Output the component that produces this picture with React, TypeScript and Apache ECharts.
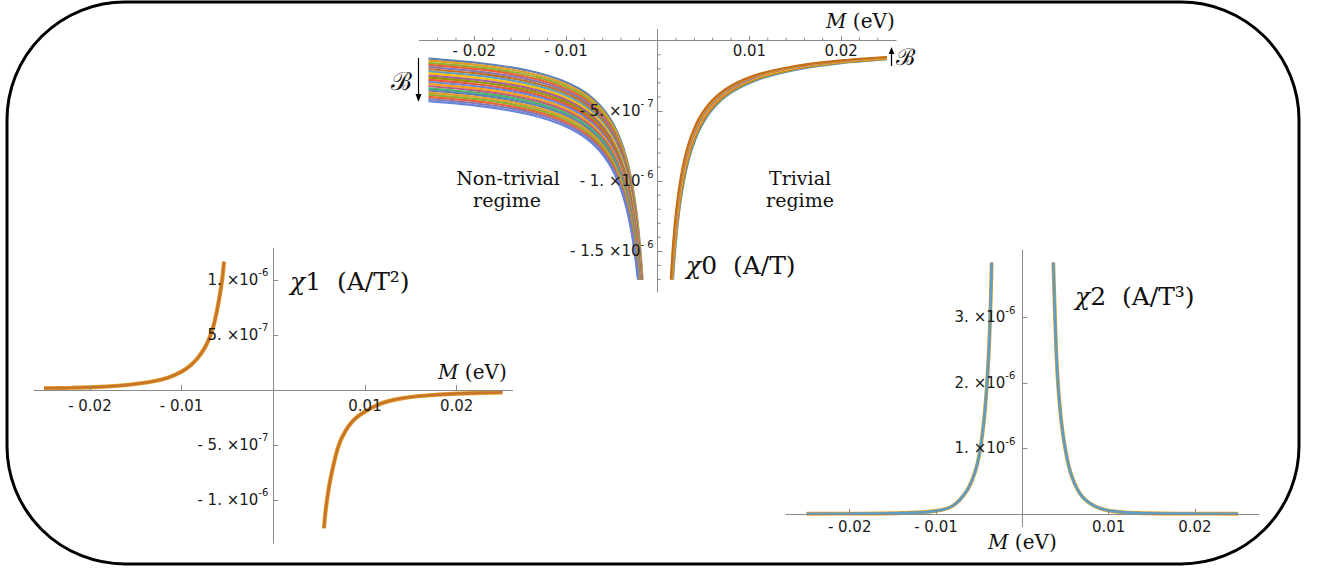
import React, { useEffect, useRef } from 'react';
import * as echarts from 'echarts';

// ---------- data (M in eV, susceptibilities in units of 1e-7) ----------
// chi0, non-trivial side: shared M grid, one curve per field value (B grows downward)
const chi0LeftM = [-0.025, -0.02, -0.016, -0.013, -0.0105, -0.0085, -0.007, -0.0058, -0.0048, -0.004, -0.0034, -0.0029, -0.0025, -0.0022, -0.00195, -0.0018];
// M where each curve leaves the plot range (last value of each curve)
const chi0LeftEndM = [-0.001662, -0.001682, -0.001703, -0.001725, -0.001747, -0.001769, -0.001791, -0.001814, -0.001838, -0.001862, -0.001886, -0.001911, -0.001936, -0.001962, -0.001989, -0.002015, -0.002043, -0.002071, -0.002099, -0.002129, -0.002158];
const chi0Left: number[][] = [
  [-1.27, -1.55, -1.90, -2.30, -2.82, -3.44, -4.15, -4.98, -5.98, -7.15, -8.39, -9.81, -11.35, -12.88, -14.51, -15.71, -17],
  [-1.42, -1.70, -2.05, -2.46, -2.97, -3.60, -4.31, -5.14, -6.15, -7.32, -8.56, -9.99, -11.54, -13.07, -14.71, -15.91, -17],
  [-1.57, -1.86, -2.21, -2.61, -3.13, -3.76, -4.47, -5.31, -6.32, -7.50, -8.74, -10.17, -11.73, -13.26, -14.91, -16.11, -17],
  [-1.72, -2.01, -2.36, -2.77, -3.29, -3.92, -4.64, -5.47, -6.49, -7.67, -8.92, -10.35, -11.91, -13.46, -15.11, -16.31, -17],
  [-1.88, -2.16, -2.52, -2.92, -3.44, -4.08, -4.80, -5.64, -6.66, -7.84, -9.09, -10.53, -12.10, -13.65, -15.30, -16.52, -17],
  [-2.03, -2.31, -2.67, -3.08, -3.60, -4.24, -4.96, -5.80, -6.83, -8.01, -9.27, -10.72, -12.29, -13.84, -15.50, -16.72, -17],
  [-2.18, -2.47, -2.82, -3.23, -3.76, -4.40, -5.12, -5.97, -6.99, -8.19, -9.45, -10.90, -12.48, -14.04, -15.70, -16.92, -17],
  [-2.33, -2.62, -2.98, -3.39, -3.92, -4.56, -5.28, -6.13, -7.16, -8.36, -9.62, -11.08, -12.66, -14.23, -15.90, -17],
  [-2.48, -2.77, -3.13, -3.55, -4.07, -4.72, -5.44, -6.30, -7.33, -8.53, -9.80, -11.26, -12.85, -14.42, -16.10, -17],
  [-2.63, -2.92, -3.28, -3.70, -4.23, -4.88, -5.61, -6.46, -7.50, -8.70, -9.98, -11.44, -13.04, -14.61, -16.30, -17],
  [-2.79, -3.08, -3.44, -3.86, -4.39, -5.04, -5.77, -6.63, -7.67, -8.88, -10.15, -11.63, -13.23, -14.81, -16.50, -17],
  [-2.94, -3.23, -3.59, -4.01, -4.54, -5.20, -5.93, -6.79, -7.83, -9.05, -10.33, -11.81, -13.41, -15.00, -16.70, -17],
  [-3.09, -3.38, -3.75, -4.17, -4.70, -5.36, -6.09, -6.95, -8.00, -9.22, -10.51, -11.99, -13.60, -15.19, -16.89, -17],
  [-3.24, -3.53, -3.90, -4.32, -4.86, -5.51, -6.25, -7.12, -8.17, -9.39, -10.69, -12.17, -13.79, -15.39, -17],
  [-3.39, -3.69, -4.05, -4.48, -5.02, -5.67, -6.42, -7.28, -8.34, -9.57, -10.86, -12.35, -13.98, -15.58, -17],
  [-3.54, -3.84, -4.21, -4.63, -5.17, -5.83, -6.58, -7.45, -8.51, -9.74, -11.04, -12.54, -14.16, -15.77, -17],
  [-3.69, -3.99, -4.36, -4.79, -5.33, -5.99, -6.74, -7.61, -8.68, -9.91, -11.22, -12.72, -14.35, -15.96, -17],
  [-3.85, -4.14, -4.51, -4.94, -5.49, -6.15, -6.90, -7.78, -8.84, -10.08, -11.39, -12.90, -14.54, -16.16, -17],
  [-4.00, -4.30, -4.67, -5.10, -5.64, -6.31, -7.06, -7.94, -9.01, -10.26, -11.57, -13.08, -14.73, -16.35, -17],
  [-4.15, -4.45, -4.82, -5.25, -5.80, -6.47, -7.22, -8.11, -9.18, -10.43, -11.75, -13.26, -14.91, -16.54, -17],
  [-4.30, -4.60, -4.98, -5.41, -5.96, -6.63, -7.39, -8.27, -9.35, -10.60, -11.92, -13.45, -15.10, -16.74, -17],
];

// chi0, trivial side (B grows upward)
const chi0RightM = [0.025, 0.02, 0.015, 0.011, 0.008, 0.006, 0.0046, 0.0036, 0.0029, 0.0024, 0.00205, 0.0018, 0.0016];
const chi0RightEndM = [0.001667, 0.001627, 0.001587, 0.001548, 0.001508, 0.001468, 0.001429];
const chi0Right: number[][] = [
  [-1.32, -1.60, -2.07, -2.75, -3.70, -4.87, -6.29, -7.98, -9.86, -11.87, -13.86, -15.76, -17],
  [-1.29, -1.57, -2.02, -2.68, -3.62, -4.76, -6.14, -7.79, -9.63, -11.59, -13.53, -15.39, -17],
  [-1.27, -1.53, -1.98, -2.62, -3.53, -4.64, -6.00, -7.61, -9.40, -11.31, -13.21, -15.01, -16.87, -17],
  [-1.24, -1.50, -1.93, -2.56, -3.45, -4.53, -5.85, -7.42, -9.17, -11.03, -12.88, -14.64, -16.45, -17],
  [-1.21, -1.47, -1.89, -2.50, -3.37, -4.42, -5.71, -7.24, -8.94, -10.76, -12.56, -14.27, -16.03, -17],
  [-1.19, -1.43, -1.84, -2.44, -3.28, -4.31, -5.56, -7.05, -8.71, -10.48, -12.23, -13.90, -15.62, -17],
  [-1.16, -1.40, -1.80, -2.38, -3.20, -4.20, -5.42, -6.87, -8.48, -10.20, -11.91, -13.53, -15.20, -17],
];

// chi1
const chi1LeftM = [-0.025, -0.022, -0.019, -0.016, -0.0135, -0.0115, -0.01, -0.009, -0.0082, -0.0075, -0.007, -0.0065, -0.0061, -0.0058, -0.0056, -0.00545, -0.00538];
const chi1Left = [0.15, 0.20, 0.28, 0.45, 0.72, 1.12, 1.67, 2.25, 2.95, 3.80, 4.65, 5.90, 7.40, 8.80, 9.90, 11.0, 11.66];
const chi1RightM = [0.00553, 0.00565, 0.00581, 0.006, 0.00636, 0.0068, 0.00709, 0.0075, 0.00818, 0.009, 0.01, 0.0112, 0.01236, 0.014, 0.016, 0.02, 0.025];
const chi1Right = [-12.57, -11.4, -10.3, -9.2, -7.57, -6.0, -5.15, -4.3, -3.33, -2.55, -1.97, -1.42, -1.06, -0.76, -0.55, -0.33, -0.21];

// chi2
const chi2LeftM = [-0.025, -0.02, -0.0138, -0.01, -0.008, -0.00645, -0.00548, -0.0049, -0.0044, -0.00406, -0.00382, -0.0037, -0.00362, -0.00355];
const chi2Left = [0.04, 0.06, 0.15, 0.46, 1.3, 3.5, 6.4, 9.7, 14.8, 20.5, 26.5, 31.0, 34.5, 38.4];
const chi2RightM = [0.00359, 0.00379, 0.00398, 0.00428, 0.00475, 0.00553, 0.00669, 0.00823, 0.01, 0.01326, 0.02, 0.025];
const chi2Right = [38.4, 30, 23.5, 17.4, 11.8, 6.6, 3.1, 1.3, 0.53, 0.15, 0.06, 0.04];

// ticks and tick labels
const xTicks = [-0.02, -0.01, 0.01, 0.02];
const xTickLabels = ['- 0.02', '- 0.01', '0.01', '0.02'];
const chi0MinorX = [-0.024, -0.022, -0.018, -0.016, -0.014, -0.012, -0.008, -0.006, -0.004, -0.002, 0.002, 0.004, 0.006, 0.008, 0.012, 0.014, 0.016, 0.018, 0.022, 0.024];
const chi0MinorY = [-1, -2, -3, -4, -6, -7, -8, -9, -11, -12, -13, -14, -16, -17];
const chi0YTicks = [-5, -10, -15];
const chi0YLabels = [['- 5.', '- 7'], ['- 1.', '- 6'], ['- 1.5', '- 6']];
const chi1YTicks = [10, 5, -5, -10];
const chi1YLabels = [['1.', '-6'], ['5.', '-7'], ['- 5.', '-7'], ['- 1.', '-6']];
const chi2YTicks = [10, 20, 30];
const chi2YLabels = [['1.', '-6'], ['2.', '-6'], ['3.', '-6']];

const bandColors = ['#5E81B5', '#E19C24', '#8FB032', '#EB6235', '#8778B3', '#C56E1A', '#5D9EC7', '#FFBF00', '#A5609D', '#929600', '#E95536', '#6685D9', '#F89F13', '#BC5B80', '#47B66D', '#5E81B5', '#E19C24', '#8FB032', '#EB6235', '#8778B3', '#6685D9'];
const rightColors = ['#5E81B5', '#8FB032', '#EB6235', '#FFBF00', '#8778B3', '#E19C24', '#C56E1A'];

// ---------- layout & styling ----------
const AXIS = '#8a8a8a';
const TXT = '#1a1a1a';
const SANS = 'DejaVu Sans';
const SERIF = 'DejaVu Serif';

type Panel = { left: number; top: number; width: number; height: number; xExt: number; yMin: number; yMax: number };
const panels: Panel[] = [
  { left: 419.3, top: 29.5, width: 476.8, height: 262.6, xExt: 0.026, yMin: -17.9, yMax: 0.8 },
  { left: 34, top: 248.3, width: 478.6, height: 295, xExt: 0.0261, yMin: -13.94, yMax: 12.88 },
  { left: 785.8, top: 250, width: 473, height: 276.7, xExt: 0.0274, yMin: -1.94, yMax: 40.3 },
];

function xAxisFor(grid: number, margin: number) {
  const p = panels[grid];
  // place the axis line on y = 0 (negative offset moves it into the grid)
  const offset = -p.height * (-p.yMin) / (p.yMax - p.yMin);
  return {
    type: 'value', gridIndex: grid, min: -p.xExt, max: p.xExt, position: 'bottom', offset, z: 10,
    axisLine: { show: true, onZero: false, lineStyle: { color: AXIS, width: 1 } },
    axisTick: { show: true, inside: true, length: 5, customValues: xTicks, lineStyle: { color: AXIS, width: 1 } },
    axisLabel: {
      show: true, customValues: xTicks, margin, color: TXT, fontSize: 15, fontFamily: SANS,
      formatter: (v: number) => { const i = xTicks.findIndex((t) => Math.abs(t - v) < 1e-9); return i >= 0 ? xTickLabels[i] : ''; },
    },
    splitLine: { show: false },
  };
}

function yAxisFor(grid: number, ticks: number[], labels: string[][], margin: number) {
  const p = panels[grid];
  const offset = -p.width * 0.5; // symmetric x range: M = 0 is the middle
  return {
    type: 'value', gridIndex: grid, min: p.yMin, max: p.yMax, position: 'left', offset, z: 10,
    axisLine: { show: true, onZero: false, lineStyle: { color: AXIS, width: 1 } },
    axisTick: { show: true, inside: true, length: 5, customValues: ticks, lineStyle: { color: AXIS, width: 1 } },
    axisLabel: {
      show: true, customValues: ticks, margin,
      formatter: (v: number) => {
        const i = ticks.findIndex((t) => Math.abs(t - v) < 1e-6);
        if (i < 0) return '';
        return `{m|${labels[i][0]} ×10}{s|${labels[i][1]}}`;
      },
      rich: {
        m: { fontSize: 15, fontFamily: SANS, color: TXT, lineHeight: 24 },
        s: { fontSize: 10, fontFamily: SANS, color: TXT, lineHeight: 12, verticalAlign: 'top' },
      },
    },
    splitLine: { show: false },
  };
}

function line(axis: number, data: number[][], color: string, width: number) {
  return {
    type: 'line', xAxisIndex: axis, yAxisIndex: axis, data, symbol: 'none', showSymbol: false,
    smooth: 0.3, z: 2,
    lineStyle: { color, width }, silent: true, animation: false, emphasis: { disabled: true },
  };
}

function serifText(x: number, y: number, text: string, size: number, align = 'left', extraRich: any = {}) {
  return {
    type: 'text', x, y, silent: true,
    style: {
      text, fontSize: size, fontFamily: SERIF, fill: '#111',
      align, textAlign: align, verticalAlign: 'middle', textVerticalAlign: 'middle',
      rich: {
        i: { fontStyle: 'italic', fontFamily: SERIF, fontSize: size, fill: '#111', color: '#111' },
        r: { fontFamily: SERIF, fontSize: size, fill: '#111', color: '#111' },
        ...extraRich,
      },
    },
  };
}

function buildOption() {
  const series: any[] = [];
  chi0Left.forEach((vals, k) => {
    const data = vals.map((v, i) => [i === vals.length - 1 ? chi0LeftEndM[k] : chi0LeftM[i], v]);
    series.push(line(0, data, bandColors[k], 2.2));
  });
  chi0Right.forEach((vals, k) => {
    const data = vals.map((v, i) => [i === vals.length - 1 ? chi0RightEndM[k] : chi0RightM[i], v]);
    series.push(line(0, data, rightColors[k], 2.2));
  });
  const c1L = chi1Left.map((v, i) => [chi1LeftM[i], v]);
  const c1R = chi1Right.map((v, i) => [chi1RightM[i], v]);
  series.push(line(1, c1L, '#E19C24', 4.2), line(1, c1L, '#C8742A', 2.6));
  series.push(line(1, c1R, '#E19C24', 4.2), line(1, c1R, '#C8742A', 2.6));
  const c2L = chi2Left.map((v, i) => [chi2LeftM[i], v]);
  const c2R = chi2Right.map((v, i) => [chi2RightM[i], v]);
  series.push(line(2, c2L, '#E19C24', 3.8), line(2, c2L, '#5D9EC7', 2.6));
  series.push(line(2, c2R, '#E19C24', 3.8), line(2, c2R, '#5D9EC7', 2.6));

  // minor ticks on the chi0 axes
  series.push({
    type: 'custom', xAxisIndex: 0, yAxisIndex: 0, silent: true, z: 3,
    data: [...chi0MinorX.map((x) => [x, 0, 0]), ...chi0MinorY.map((y) => [0, y, 1])],
    renderItem: (_p: any, api: any) => {
      const p = api.coord([api.value(0), api.value(1)]);
      const vert = api.value(2) === 0;
      return {
        type: 'line',
        shape: vert ? { x1: p[0], y1: p[1], x2: p[0], y2: p[1] - 3 } : { x1: p[0], y1: p[1], x2: p[0] + 3, y2: p[1] },
        style: { stroke: AXIS, lineWidth: 1 },
      };
    },
  });

  const sup = { fontFamily: SERIF, fontSize: 25, fill: '#111', color: '#111' };
  return {
    animation: false,
    backgroundColor: '#ffffff',
    grid: panels.map((p) => ({ left: p.left, top: p.top, width: p.width, height: p.height, outerBoundsMode: 'none', containLabel: false })),
    xAxis: [xAxisFor(0, 3), xAxisFor(1, 8.5), xAxisFor(2, 5.5)],
    yAxis: [
      yAxisFor(0, chi0YTicks, chi0YLabels, 4),
      yAxisFor(1, chi1YTicks, chi1YLabels, 5),
      yAxisFor(2, chi2YTicks, chi2YLabels, 7),
    ],
    series,
    graphic: {
      elements: [
        { type: 'rect', silent: true, shape: { x: 7, y: 2, width: 1292, height: 562, r: 118 }, style: { fill: 'none', stroke: '#000', lineWidth: 3 } },
        serifText(826, 21, '{i|M}{r| (eV)}', 20),
        serifText(438, 372, '{i|M}{r| (eV)}', 20),
        serifText(988, 542, '{i|M}{r| (eV)}', 20),
        serifText(686, 265, '{c|χ}{r|0  (A/T)}', 25, 'left', { c: { ...sup, fontStyle: 'italic' }, r: sup }),
        serifText(290, 281, '{c|χ}{r|1  (A/T²)}', 25, 'left', { c: { ...sup, fontStyle: 'italic' }, r: sup }),
        serifText(1075, 296, '{c|χ}{r|2  (A/T³)}', 25, 'left', { c: { ...sup, fontStyle: 'italic' }, r: sup }),
        serifText(508, 177.5, 'Non-trivial', 19, 'center'),
        serifText(507, 199.5, 'regime', 19, 'center'),
        serifText(800, 177.5, 'Trivial', 19, 'center'),
        serifText(800, 199.5, 'regime', 19, 'center'),
        serifText(401, 81, 'ℬ', 25, 'center'),
        serifText(905, 57, 'ℬ', 23, 'center'),
        { type: 'line', silent: true, shape: { x1: 418.5, y1: 58, x2: 418.5, y2: 96 }, style: { stroke: '#000', lineWidth: 1.2 } },
        { type: 'polygon', silent: true, shape: { points: [[418.5, 102], [415.5, 94], [421.5, 94]] }, style: { fill: '#000' } },
        { type: 'line', silent: true, shape: { x1: 891.5, y1: 66, x2: 891.5, y2: 53 }, style: { stroke: '#000', lineWidth: 1.2 } },
        { type: 'polygon', silent: true, shape: { points: [[891.5, 47], [888.7, 54], [894.3, 54]] }, style: { fill: '#000' } },
      ],
    },
  };
}

export default function App() {
  const ref = useRef<HTMLDivElement>(null);
  useEffect(() => {
    if (!ref.current) return;
    const chart = echarts.init(ref.current, null, { renderer: 'svg' });
    chart.setOption(buildOption() as any);
    return () => chart.dispose();
  }, []);
  return (
    <div
      ref={ref}
      style={{ position: 'fixed', left: 0, top: 0, width: 1322, height: 572, background: '#fff' }}
    />
  );
}
